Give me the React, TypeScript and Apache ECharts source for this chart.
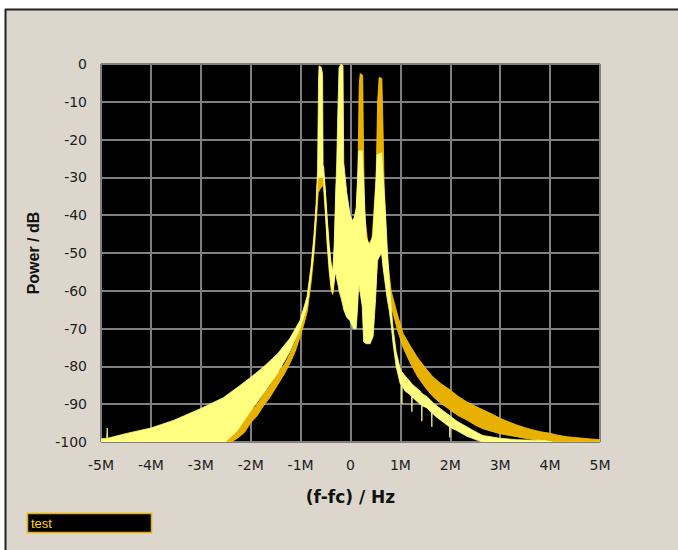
import React, { useEffect, useRef } from "react";
import * as echarts from "echarts";

// Axis ticks
const xTickLabels = ["-5M", "-4M", "-3M", "-2M", "-1M", "0", "1M", "2M", "3M", "4M", "5M"];
const yTickValues = [0, -10, -20, -30, -40, -50, -60, -70, -80, -90, -100];

// Series "test" – pale trace, part A (left tail, left skirt, first tone)  x in MHz, y in dB
const paleAX = [-5.0, -4.886, -4.876, -4.866, -4.51, -4.0, -3.55, -3.01, -2.55, -2.51, -2.27, -2.01, -1.75, -1.47, -1.21, -1.01, -0.87, -0.79, -0.73, -0.69, -0.66, -0.64, -0.63, -0.59, -0.56, -0.55];
const paleAHi = [-99.2, -99.0, -96.3, -99.0, -97.8, -96.3, -94.3, -91.2, -88.3, -87.9, -85.6, -83.0, -80.2, -76.8, -72.5, -67.8, -61.5, -53.5, -45, -37, -28, -4, -0.5, -0.8, -2.5, -26];
const paleALo = [-100, -100, -100, -100, -100, -100, -100, -100, -100, -100, -97, -92, -87.3, -82, -76, -70, -64, -56, -48, -40, -31, -30, -30, -30, -30, -30];

// pale trace, part B (notch, second tone, centre, right tail with downward spikes)
const paleBX = [-0.54, -0.506, -0.466, -0.426, -0.386, -0.356, -0.326, -0.296, -0.276, -0.256, -0.23, -0.186, -0.15, -0.136, -0.076, -0.006, 0.054, 0.114, 0.144, 0.164, 0.234, 0.264, 0.314, 0.394, 0.454, 0.504, 0.534, 0.624, 0.654, 0.694, 0.734, 0.774, 0.814, 0.854, 0.914, 0.994, 1.025, 1.03, 1.035, 1.094, 1.194, 1.225, 1.23, 1.235, 1.394, 1.425, 1.43, 1.435, 1.534, 1.625, 1.63, 1.635, 1.734, 1.934, 1.985, 1.99, 1.995, 2.134, 2.334, 2.534, 2.654, 2.994, 3.334, 3.894, 4.034];
const paleBHi = [-27, -33, -41, -48, -53, -55, -48, -34, -26, -14, -1, 0, -0.5, -26, -34, -40, -42, -38, -30, -23, -23, -32, -46, -48, -45, -33, -24, -23.5, -30, -38, -48, -57, -64, -70, -76, -80.5, -81.3, -81.4, -81.5, -82.5, -84, -84.5, -84.6, -84.7, -86.5, -87, -87.1, -87.2, -88, -89.2, -89.3, -89.4, -90.5, -92.5, -93, -93, -93.1, -94.5, -96, -97.5, -98.3, -99, -99.4, -99.6, -100];
const paleBLo = [-30, -38, -47, -54, -59, -60.5, -57, -55, -57, -58, -60, -62, -64, -65, -67, -68, -70, -70, -64, -58, -64, -73.5, -74, -74, -72, -62, -52, -50, -54, -58, -62, -65, -69, -74, -80, -84.5, -85, -90, -85.2, -86.5, -87.5, -88, -92, -88.1, -90, -90.3, -94.5, -90.4, -91, -92.3, -96, -92.4, -93.5, -95.5, -96, -98.8, -96.1, -97, -98.5, -99.5, -100, -100, -100, -100, -100];

// orange trace
const orangeX = [-2.506, -2.386, -2.266, -2.126, -2.006, -1.866, -1.746, -1.606, -1.466, -1.326, -1.206, -1.106, -1.006, -0.926, -0.866, -0.786, -0.726, -0.686, -0.646, -0.606, -0.546, -0.506, -0.466, -0.426, -0.386, -0.356, -0.326, -0.286, -0.186, -0.126, -0.006, 0.114, 0.15, 0.174, 0.194, 0.244, 0.26, 0.284, 0.354, 0.434, 0.514, 0.544, 0.574, 0.628, 0.648, 0.674, 0.728, 0.814, 0.934, 1.054, 1.194, 1.334, 1.494, 1.654, 1.814, 1.994, 2.154, 2.334, 2.494, 2.654, 2.834, 2.994, 3.154, 3.334, 3.494, 3.654, 3.814, 3.994, 4.154, 4.334, 4.494, 4.654, 4.814, 5.0];
const orangeHi = [-99.5, -98.5, -96.5, -94, -92, -90, -87.5, -85, -82, -79.5, -76.5, -73.5, -70, -66, -62.5, -54.5, -46, -38.5, -30.5, -30, -28, -34, -42, -49, -54, -56, -49, -32, -22, -30, -42, -40, -28, -6, -2.5, -3, -22, -40, -48, -46, -30, -10, -3.6, -3.8, -15, -32, -50, -60, -66, -71.3, -74.5, -77.5, -80.3, -82.8, -84.6, -86.2, -87.9, -89.4, -90.5, -91.5, -92.6, -93.7, -94.6, -95.5, -96.2, -96.8, -97.3, -97.7, -98.2, -98.6, -98.8, -99, -99.2, -99.4];
const orangeLo = [-100, -100, -99, -97.5, -95, -93, -90.5, -88, -85, -82, -79, -76, -72, -68.5, -65.5, -57.5, -49.5, -42, -34, -33, -32, -39, -48, -55, -60, -61, -58, -50, -48, -50, -66, -68, -60, -50, -50, -55, -60, -68, -70, -70, -58, -52, -50, -50, -52, -55, -58, -64, -70, -75, -79, -82.5, -85.5, -88, -89.8, -91.5, -93, -94.2, -95.5, -96.5, -97.2, -97.8, -98.2, -98.6, -99, -99.3, -99.6, -100, -100, -100, -100, -100, -100, -100];

const PALE = "#ffff80";
const ORANGE_FILL = "#e8b000";
const ORANGE_EDGE = "#ffc800";
const BG = "#dcd6cd";

function band(name: string, xs: number[], hi: number[], lo: number[], fill: string, edge: string, z: number) {
  return {
    type: "custom",
    name,
    coordinateSystem: "cartesian2d",
    z,
    silent: true,
    clip: true,
    encode: { x: 0, y: [1, 2] },
    data: xs.map((x, i) => [x, lo[i], hi[i]]),
    renderItem: (params: any, api: any) => {
      if (params.dataIndexInside !== 0) return null;
      const n = params.dataInsideLength;
      const top: number[][] = [];
      const bot: number[][] = [];
      for (let i = 0; i < n; i++) {
        const x = api.value(0, i);
        top.push(api.coord([x, api.value(2, i)]));
        bot.push(api.coord([x, api.value(1, i)]));
      }
      const pts = top.concat(bot.reverse());
      return {
        type: "polygon",
        shape: { points: pts },
        style: { fill, stroke: edge, lineWidth: 0.8, lineJoin: "round" },
      };
    },
  };
}

export default function App() {
  const ref = useRef<HTMLDivElement>(null);
  useEffect(() => {
    if (!ref.current) return;
    const chart = echarts.init(ref.current, null, { renderer: "svg" });
    const labelFont = "DejaVu Sans, Liberation Sans, Arial, sans-serif";
    chart.setOption({
      animation: false,
      backgroundColor: BG,
      grid: {
        left: 101,
        right: 78,
        top: 64,
        bottom: 108,
        show: true,
        backgroundColor: "#000000",
        borderColor: "#9a9a9a",
        borderWidth: 1,
      },
      xAxis: {
        type: "value",
        min: -5,
        max: 5,
        interval: 1,
        axisLine: { show: false },
        axisTick: { show: false },
        axisLabel: {
          color: "#1e1e1e",
          fontSize: 14,
          fontFamily: labelFont,
          margin: 16,
          formatter: (v: number) => xTickLabels[Math.round(v) + 5],
        },
        splitLine: { show: true, lineStyle: { color: "#808080", width: 2 } },
        name: "(f-fc) / Hz",
        nameLocation: "middle",
        nameGap: 46,
        nameTextStyle: { fontFamily: "DejaVu Sans, sans-serif", fontWeight: "bold", fontSize: 17, color: "#111" },
      },
      yAxis: {
        type: "value",
        min: -100,
        max: 0,
        interval: 10,
        axisLine: { show: false },
        axisTick: { show: false },
        axisLabel: {
          color: "#1e1e1e",
          fontSize: 14,
          fontFamily: labelFont,
          margin: 14,
          formatter: (v: number) => (yTickValues.indexOf(v) >= 0 ? String(v) : ""),
        },
        splitLine: { show: true, lineStyle: { color: "#808080", width: 2 } },
        name: "Power / dB",
        nameLocation: "middle",
        nameGap: 60,
        nameTextStyle: { fontFamily: "Liberation Sans, Arial, sans-serif", fontWeight: "bold", fontSize: 16, color: "#111" },
      },
      graphic: [
        { type: "rect", shape: { x: 0, y: 0, width: 678, height: 9 }, style: { fill: "#ffffff" } },
        { type: "rect", shape: { x: 0, y: 0, width: 5, height: 550 }, style: { fill: "#ffffff" } },
        { type: "line", shape: { x1: 5, y1: 9.5, x2: 678, y2: 9.5 }, style: { stroke: "#222", lineWidth: 2 } },
        { type: "line", shape: { x1: 5.5, y1: 9, x2: 5.5, y2: 550 }, style: { stroke: "#222", lineWidth: 2 } },
        {
          type: "rect",
          shape: { x: 27.5, y: 513.5, width: 124, height: 19 },
          style: { fill: "#000", stroke: "#e8b000", lineWidth: 1.5 },
        },
        {
          type: "text",
          x: 31,
          y: 523,
          style: { text: "test", fill: "#ffd200", font: "13px Liberation Sans, Arial, sans-serif", verticalAlign: "middle" },
        },
      ],
      series: [
        band("orange", orangeX, orangeHi, orangeLo, ORANGE_FILL, ORANGE_EDGE, 3),
        band("paleA", paleAX, paleAHi, paleALo, PALE, PALE, 4),
        band("paleB", paleBX, paleBHi, paleBLo, PALE, PALE, 4),
      ],
    });
    return () => chart.dispose();
  }, []);
  return (
    <div
      ref={ref}
      style={{ position: "fixed", left: 0, top: 0, width: 678, height: 550 }}
    />
  );
}
